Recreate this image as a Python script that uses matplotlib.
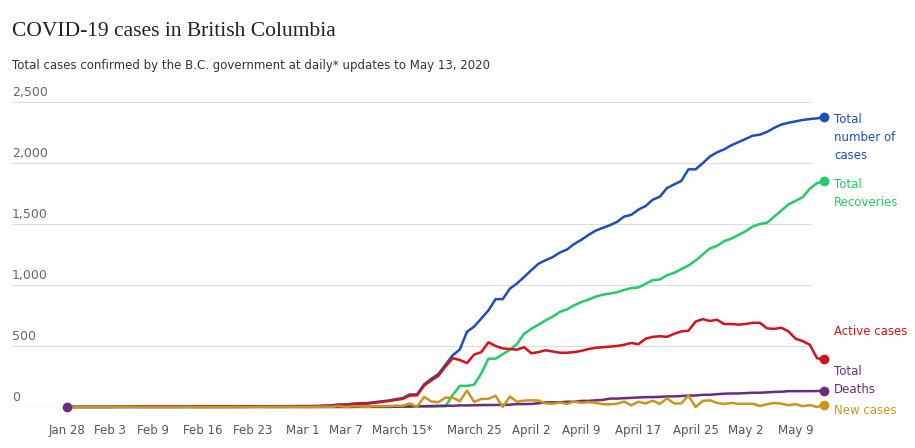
import matplotlib.pyplot as plt
import matplotlib.dates as mdates
import pandas as pd

dates = pd.date_range("2020-01-28", "2020-05-13", freq="D")

cases = ([1, 1, 1, 1] +
         [1, 1, 1, 2, 2, 4, 4, 4, 4, 4, 4, 4, 4, 5, 5, 5, 5, 5, 5, 5, 6, 6, 6, 7, 7, 7, 7, 7, 8] +
         [8, 8, 9, 12, 13, 21, 21, 27, 32, 32, 39, 46, 53, 64, 73, 103, 103, 186, 231, 271, 348, 424, 472, 617, 659, 725, 792, 884, 884, 970, 1013] +
         [1066, 1121, 1174, 1203, 1229, 1266, 1291, 1336, 1370, 1410, 1445, 1468, 1490, 1517, 1561, 1575, 1618, 1647, 1699, 1724, 1795, 1824, 1853, 1948, 1948, 1998, 2053, 2087, 2112, 2145] +
         [2171, 2197, 2224, 2232, 2255, 2288, 2315, 2330, 2341, 2353, 2360, 2366, 2376])
recoveries = ([0, 0, 0, 0] + [0] * 22 + [4] * 7 +
              [4] * 19 + [5, 6, 100, 173, 173, 183, 275, 396, 396, 433, 469, 517] +
              [600, 641, 675, 710, 740, 780, 800, 834, 860, 880, 905, 920, 930, 940, 960, 975, 980, 1010, 1040, 1045, 1080, 1100, 1130, 1160, 1200, 1250, 1300, 1320, 1360, 1380] +
              [1410, 1440, 1480, 1500, 1510, 1560, 1610, 1660, 1690, 1720, 1790, 1835, 1850])
active = ([1, 1, 1, 1] +
          [1, 1, 1, 2, 2, 4, 4, 4, 4, 4, 4, 4, 4, 5, 5, 5, 5, 5, 5, 5, 6, 6, 6, 3, 3, 3, 3, 3, 4] +
          [4, 4, 5, 8, 9, 17, 17, 23, 27, 27, 34, 41, 48, 58, 66, 95, 95, 175, 218, 256, 332, 400, 385, 360, 430, 450, 530, 500, 480, 475, 470] +
          [490, 440, 450, 465, 455, 445, 445, 450, 460, 475, 485, 490, 495, 500, 510, 525, 515, 560, 575, 580, 575, 600, 620, 625, 700, 720, 705, 715, 680, 680] +
          [675, 680, 690, 690, 645, 640, 650, 620, 560, 540, 510, 400, 390])
deaths = ([0] * 4 + [0] * 29 +
          [0] * 8 + [1, 1, 1, 1, 1, 2, 3, 4, 7, 7, 8, 10, 10, 10, 13, 13, 14, 16, 16, 17, 17, 19, 24] +
          [24, 25, 31, 38, 38, 39, 43, 43, 50, 50, 55, 58, 69, 69, 72, 75, 78, 81, 81, 83, 87, 87, 90, 94, 94, 100, 100, 105, 109, 111] +
          [111, 114, 117, 117, 120, 124, 125, 130, 130, 130, 130, 131, 132])
new_cases = ([0] * 4 + [0, 0, 0, 1, 0, 2, 0, 0, 0, 0, 0, 0, 0, 1, 0, 0, 0, 0, 0, 0, 1, 0, 0, 1, 0, 0, 0, 0, 1] +
             [0, 0, 1, 3, 1, 8, 0, 6, 5, 0, 7, 7, 7, 11, 9, 30, 0, 83, 45, 40, 77, 76, 48, 135, 42, 66, 67, 92, 0, 86, 43] +
             [53, 55, 53, 29, 26, 37, 25, 45, 34, 40, 35, 23, 22, 27, 44, 14, 43, 29, 52, 25, 71, 29, 29, 95, 0, 50, 55, 34, 25, 33] +
             [26, 26, 27, 8, 23, 33, 27, 15, 23, 7, 16, 0, 16])

series = [
    (cases, "#1d4fb8", "Total\nnumber of\ncases"),
    (recoveries, "#22cc66", "Total\nRecoveries"),
    (active, "#d0141a", "Active cases"),
    (deaths, "#6b2c7d", "Total\nDeaths"),
    (new_cases, "#c9961c", "New cases"),
]
label_y = [2410, 1880, 620, 345, -30]
label_va = ["top", "top", "center", "top", "center"]

tick_dates = ["2020-01-28", "2020-02-03", "2020-02-09", "2020-02-16", "2020-02-23", "2020-03-01",
              "2020-03-07", "2020-03-15", "2020-03-25", "2020-04-02", "2020-04-09", "2020-04-17",
              "2020-04-25", "2020-05-02", "2020-05-09"]
tick_labels = ["Jan 28", "Feb 3", "Feb 9", "Feb 16", "Feb 23", "Mar 1", "Mar 7", "March 15*",
               "March 25", "April 2", "April 9", "April 17", "April 25", "May 2", "May 9"]

fig = plt.figure(figsize=(9.15, 4.48), dpi=100)
ax = fig.add_axes([12 / 915, 1 - 407 / 448, (812 - 12) / 915, (407 - 102) / 448])
ax.set_ylim(0, 2500)
day = pd.Timedelta(days=1)
ax.set_xlim(dates[0] - 7.7 * day, dates[0] + 104.3 * day)

for vals, col, lab in series:
    ax.plot(dates, vals, color=col, lw=1.8, clip_on=False, zorder=3)
    ax.plot(dates[-1], vals[-1], "o", color=col, ms=6, clip_on=False, zorder=4)
ax.plot(dates[0], 0, "o", color="#6b2c7d", ms=6, clip_on=False, zorder=5)

for (vals, col, lab), y, va in zip(series, label_y, label_va):
    ax.text(dates[-1] + 1.4 * day, y, lab, color=col, fontsize=8.5, va=va, ha="left",
            linespacing=1.5, clip_on=False)

for v in [500, 1000, 1500, 2000, 2500]:
    ax.axhline(v, color="#dddddd", lw=0.8, zorder=1)
    ax.text(0, v + 25, f"{v:,}", transform=ax.get_yaxis_transform(), fontsize=9, color="#666666",
            ha="left", va="bottom")
ax.text(0, 25, "0", transform=ax.get_yaxis_transform(), fontsize=9, color="#666666", va="bottom")
ax.axhline(0, color="#999999", lw=0.8, zorder=2)

ax.set_xticks(pd.to_datetime(tick_dates))
ax.set_xticklabels(tick_labels, fontsize=8.5, color="#555555")
ax.tick_params(axis="x", length=0, pad=12)
ax.set_yticks([])
for s in ax.spines.values():
    s.set_visible(False)

fig.text(12 / 915, 1 - 32 / 448, "COVID-19 cases in British Columbia", fontsize=15.5,
         family="Liberation Serif", color="#222222", va="center")
fig.text(12 / 915, 1 - 66 / 448, "Total cases confirmed by the B.C. government at daily* updates to May 13, 2020",
         fontsize=8.5, color="#333333", va="center")

fig.savefig("out.png", dpi=100)
